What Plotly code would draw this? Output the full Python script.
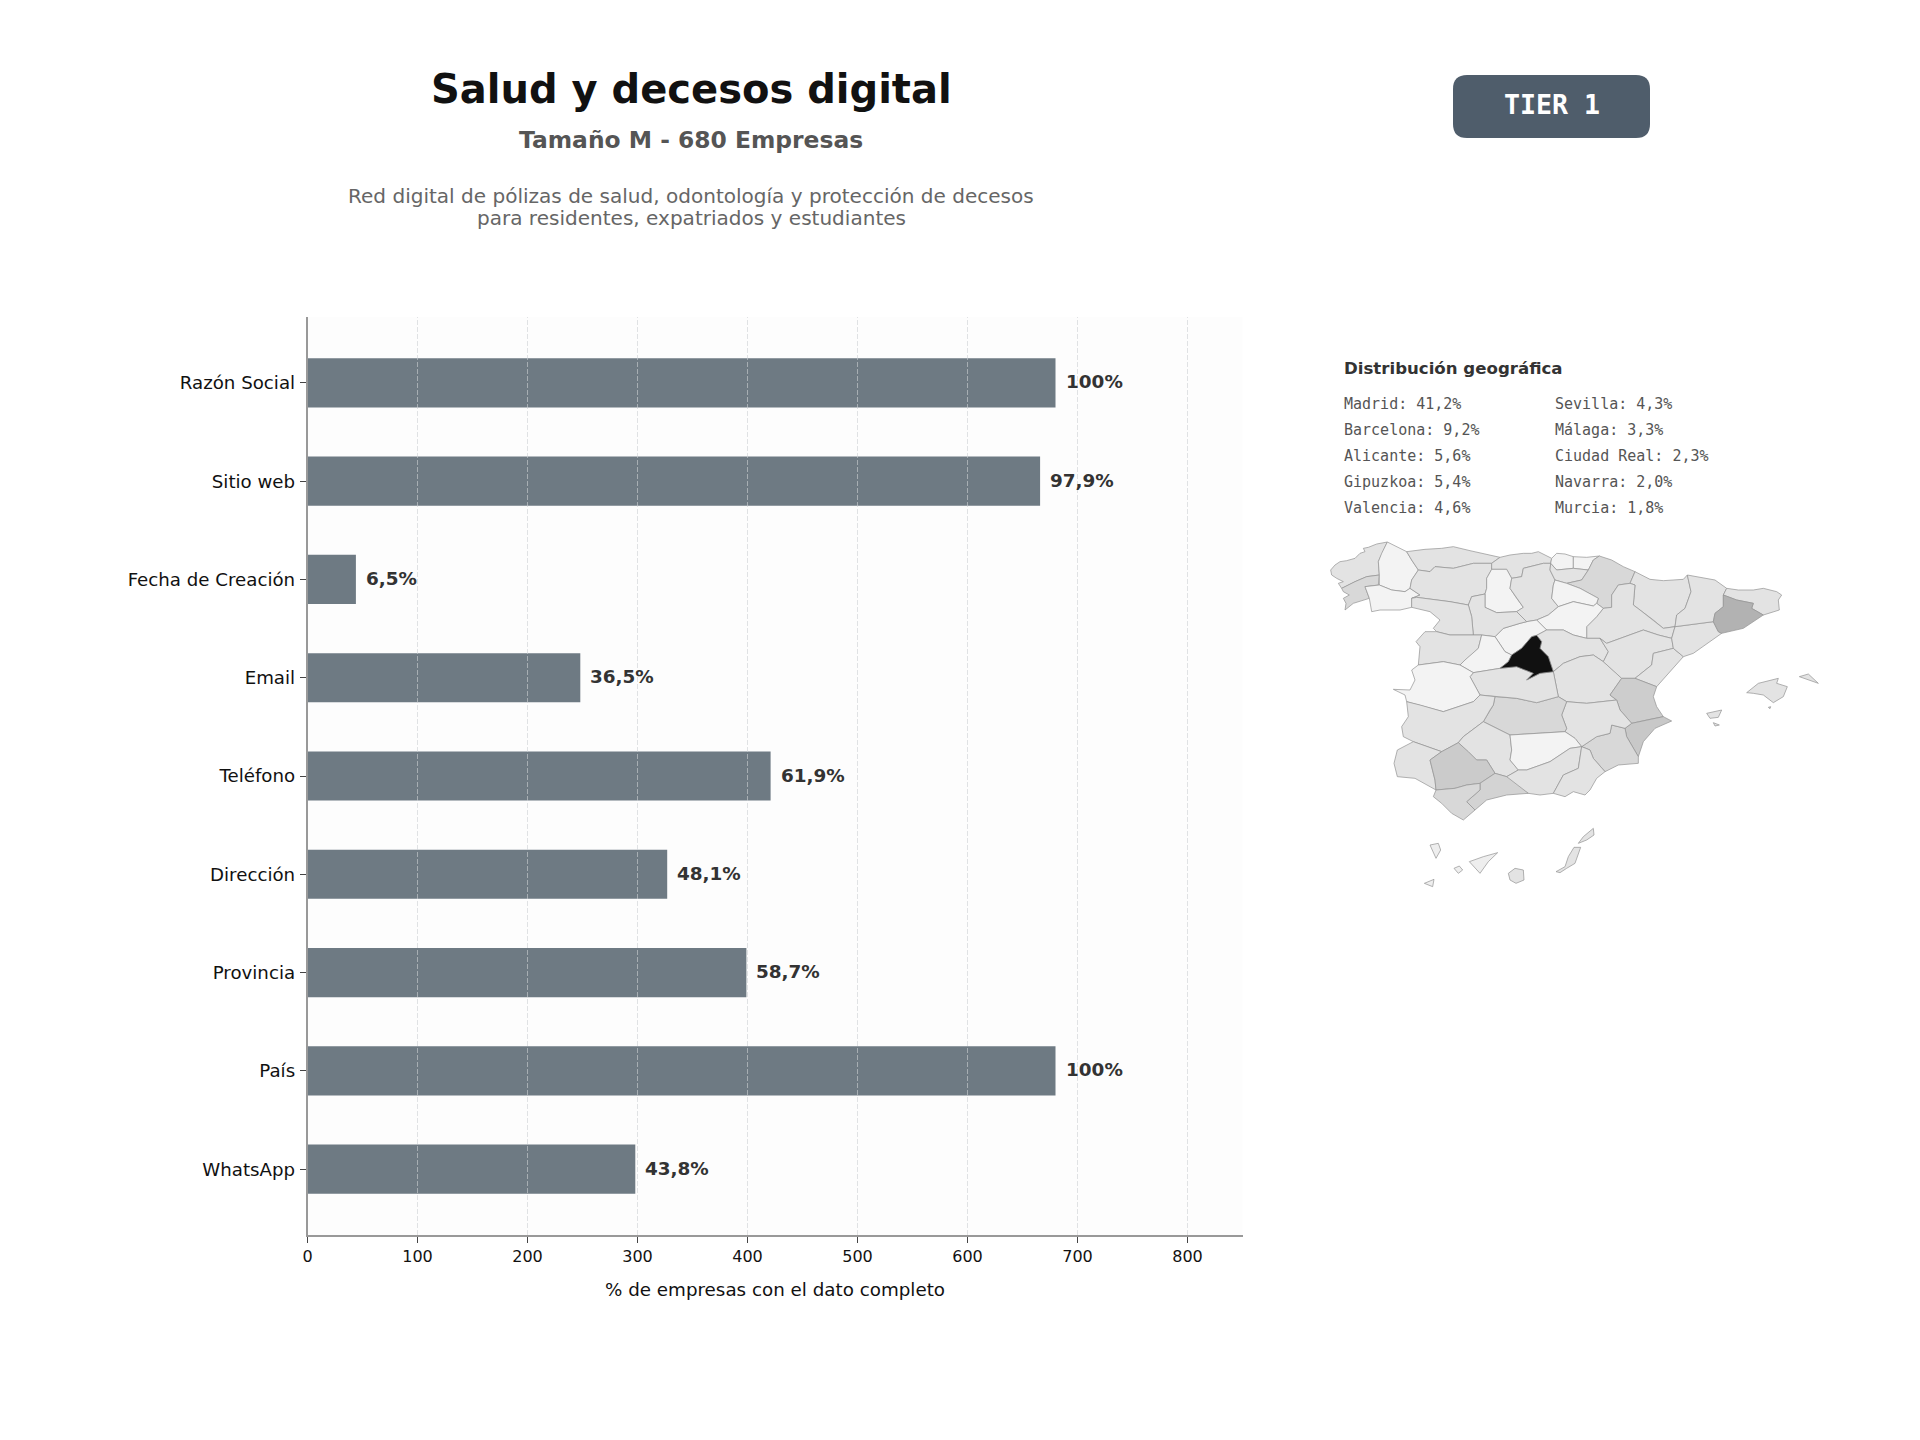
import plotly.graph_objects as go

WIDTH, HEIGHT = 1920, 1440

# Completeness of each company field
FIELDS = ["Razón Social", "Sitio web", "Fecha de Creación", "Email", "Teléfono",
          "Dirección", "Provincia", "País", "WhatsApp"]
COMPANY_COUNTS = [680, 666, 44, 248, 421, 327, 399, 680, 298]
COUNT_LABELS = ["100%", "97,9%", "6,5%", "36,5%", "61,9%", "48,1%", "58,7%", "100%", "43,8%"]
X_TICKS = [0, 100, 200, 300, 400, 500, 600, 700, 800]

# Top provinces, two columns
GEO_LEFT = ["Madrid: 41,2%", "Barcelona: 9,2%", "Alicante: 5,6%", "Gipuzkoa: 5,4%", "Valencia: 4,6%"]
GEO_RIGHT = ["Sevilla: 4,3%", "Málaga: 3,3%", "Ciudad Real: 2,3%", "Navarra: 2,0%", "Murcia: 1,8%"]

# Gray levels for the choropleth
LIGHT, PALE, MID, DEEP = "#f3f3f3", "#eeeeee", "#e3e3e3", "#d8d8d8"

# Province outlines in local map units, with their fill
PROVINCES = {
    "A Coruña": (MID, [(62,150),(75,135),(90,125),(110,122),(135,115),(150,100),(165,95),(160,85),(175,82),(200,72),(232,66),(215,100),(205,125),(208,165),(170,170),(135,185),(115,195),(95,205),(85,190),(100,185),(80,175),(65,165)]),
    "Pontevedra": (DEEP, [(95,205),(115,195),(135,185),(170,170),(208,165),(205,195),(165,200),(178,235),(130,250),(105,270),(108,250),(100,235),(118,225),(100,215)]),
    "Lugo": (LIGHT, [(232,66),(290,95),(305,120),(325,150),(305,180),(300,205),(285,215),(245,210),(208,195),(208,165),(205,125),(215,100)]),
    "Ourense": (LIGHT, [(165,200),(208,195),(245,210),(285,215),(300,205),(330,225),(305,235),(305,262),(270,270),(210,270),(185,275),(178,235)]),
    "Asturias": (MID, [(290,95),(318,92),(345,88),(395,85),(430,80),(480,92),(540,105),(570,112),(545,130),(490,130),(430,145),(375,140),(360,155),(325,150),(305,120)]),
    "León": (MID, [(325,150),(360,155),(375,140),(430,145),(490,130),(545,130),(545,148),(530,175),(530,205),(525,222),(485,230),(475,255),(420,245),(320,232),(305,235),(330,225),(300,205),(305,180)]),
    "Cantabria": (MID, [(545,130),(545,148),(590,148),(605,175),(635,170),(640,145),(700,130),(722,130),(725,115),(685,95),(665,100),(640,100),(600,105),(570,112)]),
    "Palencia": (LIGHT, [(545,148),(590,148),(605,175),(600,205),(620,235),(640,262),(620,275),(560,278),(525,262),(525,222),(530,205),(530,175)]),
    "Burgos": (MID, [(605,175),(635,170),(640,145),(700,130),(722,130),(720,150),(735,180),(730,195),(725,235),(745,260),(715,285),(680,300),(650,305),(620,275),(640,262),(620,235),(600,205)]),
    "Bizkaia": (LIGHT, [(725,115),(740,100),(765,102),(790,110),(790,145),(740,150),(722,130)]),
    "Gipuzkoa": (LIGHT, [(790,110),(830,112),(868,108),(850,120),(835,150),(790,145)]),
    "Álava": (MID, [(722,130),(740,150),(790,145),(835,150),(815,180),(770,190),(735,180),(720,150)]),
    "Navarra": (DEEP, [(868,108),(905,120),(940,140),(975,155),(960,190),(925,195),(905,225),(905,262),(880,265),(860,250),(865,235),(810,205),(770,190),(815,180),(835,150),(850,120)]),
    "La Rioja": (LIGHT, [(735,180),(770,190),(810,205),(865,235),(860,250),(850,258),(790,245),(745,260),(725,235),(730,195)]),
    "Huesca": (MID, [(975,155),(1020,178),(1060,182),(1120,178),(1132,165),(1143,215),(1125,265),(1100,285),(1095,320),(1060,325),(1030,300),(990,270),(970,255),(975,195),(960,190)]),
    "Zaragoza": (MID, [(905,262),(905,225),(925,195),(960,190),(975,195),(970,255),(990,270),(1030,300),(1060,325),(1095,320),(1085,355),(1045,345),(1000,330),(890,370),(870,355),(830,355),(830,320),(860,290),(880,265)]),
    "Soria": (LIGHT, [(745,260),(790,245),(850,258),(860,250),(880,265),(860,290),(830,320),(830,355),(790,345),(760,330),(710,330),(680,300),(715,285)]),
    "Segovia": (LIGHT, [(650,305),(680,300),(710,330),(680,346),(665,350),(635,385),(605,405),(585,395),(555,350),(580,325),(630,310)]),
    "Valladolid": (MID, [(485,230),(525,222),(525,262),(560,278),(620,275),(650,305),(630,310),(580,325),(555,350),(515,345),(490,345),(485,290),(475,255)]),
    "Zamora": (MID, [(320,232),(420,245),(475,255),(485,290),(490,345),(420,345),(380,335),(370,325),(390,300),(360,275),(305,262),(305,235)]),
    "Salamanca": (MID, [(345,335),(380,335),(420,345),(490,345),(515,345),(505,385),(465,420),(450,435),(400,425),(325,435),(330,380),(318,365)]),
    "Ávila": (LIGHT, [(515,345),(555,350),(585,395),(605,405),(595,425),(570,445),(490,458),(450,435),(465,420),(505,385)]),
    "Guadalajara": (MID, [(680,346),(710,330),(760,330),(790,345),(830,355),(870,355),(895,395),(880,425),(850,405),(810,410),(760,430),(730,455),(715,410),(690,385),(695,365)]),
    "Cuenca": (MID, [(760,430),(810,410),(850,405),(880,425),(925,465),(935,475),(900,525),(920,540),(830,550),(770,545),(745,530),(730,455)]),
    "Teruel": (MID, [(890,370),(1000,330),(1045,345),(1085,355),(1090,385),(1030,400),(1025,435),(975,475),(935,475),(880,425),(895,395),(870,355)]),
    "Castellón": (MID, [(1030,400),(1090,385),(1120,410),(1085,450),(1040,500),(975,475),(1025,435)]),
    "Tarragona": (MID, [(1085,355),(1095,320),(1210,305),(1225,335),(1235,340),(1150,400),(1120,410),(1090,385)]),
    "Lleida": (MID, [(1132,165),(1215,180),(1250,205),(1240,225),(1240,260),(1215,280),(1210,305),(1095,320),(1100,285),(1125,265),(1143,215)]),
    "Girona": (MID, [(1250,205),(1285,210),(1330,210),(1360,205),(1400,215),(1415,225),(1405,240),(1408,270),(1360,285),(1325,265),(1330,250),(1280,240),(1240,225)]),
    "Barcelona": ("#b2b2b2", [(1240,225),(1280,240),(1330,250),(1325,265),(1360,285),(1300,325),(1235,340),(1225,335),(1210,305),(1215,280),(1240,260)]),
    "Valencia": ("#cdcdcd", [(935,475),(975,475),(1040,500),(1030,530),(1040,560),(1060,590),(1020,598),(965,610),(930,570),(920,540),(900,525)]),
    "Alicante": ("#c8c8c8", [(965,610),(1020,598),(1060,590),(1085,603),(1035,625),(1000,665),(985,710),(950,650),(945,625)]),
    "Murcia": (DEEP, [(905,615),(945,625),(950,650),(985,710),(985,730),(925,735),(885,755),(850,715),(840,690),(815,680),(860,650),(900,640)]),
    "Albacete": (MID, [(770,545),(830,550),(920,540),(930,570),(965,610),(945,625),(905,615),(900,640),(860,650),(815,680),(795,655),(765,635),(770,625),(755,585)]),
    "Ciudad Real": (DEEP, [(555,530),(620,535),(680,548),(745,530),(770,545),(755,585),(770,625),(765,635),(680,640),(600,645),(520,605),(540,570),(550,555)]),
    "Toledo": (MID, [(480,470),(490,458),(570,445),(620,440),(670,460),(650,480),(690,460),(730,455),(745,530),(680,548),(620,535),(555,530),(510,525)]),
    "Cáceres": (LIGHT, [(305,450),(325,435),(400,425),(450,435),(490,458),(480,470),(510,525),(490,545),(400,575),(330,555),(290,545),(285,525),(250,508),(300,510),(315,480)]),
    "Badajoz": (MID, [(290,545),(330,555),(400,575),(490,545),(510,525),(555,530),(550,555),(540,570),(520,605),(460,650),(445,668),(395,695),(310,665),(280,650),(275,620),(295,590)]),
    "Córdoba": (MID, [(520,605),(600,645),(605,690),(600,720),(625,750),(590,770),(555,760),(530,720),(500,720),(475,695),(445,668),(460,650)]),
    "Jaén": (LIGHT, [(600,645),(680,640),(765,635),(795,655),(815,680),(780,685),(720,725),(650,750),(625,750),(600,720),(605,690)]),
    "Granada": (MID, [(625,750),(650,750),(720,725),(780,685),(815,680),(805,745),(760,765),(730,820),(690,825),(655,820),(600,790),(590,770)]),
    "Almería": (MID, [(815,680),(840,690),(850,715),(885,755),(860,775),(840,810),(825,825),(790,815),(765,830),(730,820),(760,765),(805,745)]),
    "Huelva": (MID, [(310,665),(395,695),(360,720),(375,780),(378,810),(315,775),(262,770),(252,730),(262,690)]),
    "Sevilla": ("#cbcbcb", [(395,695),(445,668),(475,695),(500,720),(530,720),(555,760),(510,790),(470,795),(435,805),(378,810),(375,780),(360,720)]),
    "Málaga": ("#d3d3d3", [(555,760),(590,770),(655,820),(590,825),(530,840),(495,870),(470,845),(510,810),(510,790)]),
    "Cádiz": (DEEP, [(378,810),(435,805),(470,795),(510,790),(510,810),(470,845),(495,870),(460,900),(425,880),(395,850),(370,830)]),
    "Madrid": ("#111111", [(680,346),(695,365),(690,385),(715,410),(730,455),(690,460),(650,480),(670,460),(620,440),(570,445),(595,425),(605,405),(635,385),(665,350)]),
    "Mallorca": (MID, [(1310,518),(1345,490),(1405,475),(1400,490),(1432,500),(1420,530),(1390,548),(1360,525),(1330,520)]),
    "Menorca": (MID, [(1468,470),(1495,462),(1525,490),(1490,478)]),
    "Cabrera": (DEEP, [(1375,562),(1382,560),(1380,566)]),
    "Ibiza": (MID, [(1190,580),(1235,570),(1225,592),(1200,595)]),
    "Formentera": (MID, [(1210,608),(1228,615),(1215,618)]),
    "La Palma": (PALE, [(360,975),(385,970),(392,990),(378,1015)]),
    "Tenerife": (PALE, [(478,1025),(520,1010),(563,998),(535,1025),(510,1060),(495,1045)]),
    "La Gomera": (PALE, [(432,1045),(448,1038),(458,1050),(445,1060)]),
    "El Hierro": (PALE, [(343,1090),(372,1078),(368,1100)]),
    "Gran Canaria": (MID, [(595,1060),(615,1045),(640,1050),(642,1080),(618,1090),(600,1080)]),
    "Fuerteventura": (MID, [(738,1055),(765,1040),(775,1010),(792,982),(812,982),(795,1030),(770,1045),(750,1058)]),
    "Lanzarote": (MID, [(805,970),(820,950),(850,925),(852,945),(830,960)]),
}


def px_x(x):
    return x / WIDTH


def px_y(y):
    return 1 - y / HEIGHT


def text_note(x, y, text, size, color, family="DejaVu Sans", bold=False, anchor="left"):
    return dict(
        xref="paper", yref="paper", x=px_x(x), y=px_y(y), text=f"<b>{text}</b>" if bold else text,
        showarrow=False, xanchor=anchor, yanchor="middle",
        font=dict(family=family, size=size, color=color),
    )


fig = go.Figure()

fig.add_trace(go.Bar(
    x=COMPANY_COUNTS, y=FIELDS, orientation="h", width=0.5,
    marker=dict(color="#6e7a83", line=dict(width=0)),
    hoverinfo="skip", showlegend=False,
))

for name, (shade, outline) in PROVINCES.items():
    fig.add_trace(go.Scatter(
        x=[p[0] for p in outline] + [outline[0][0]],
        y=[p[1] for p in outline] + [outline[0][1]],
        xaxis="x2", yaxis="y2", mode="lines", fill="toself", fillcolor=shade,
        line=dict(color="#929292", width=0.7), name=name,
        hoverinfo="skip", showlegend=False,
    ))

annotations = [
    text_note(691, 89, "Salud y decesos digital", 40, "#111111", bold=True, anchor="center"),
    text_note(691, 140, "Tamaño M - 680 Empresas", 23.4, "#555555", bold=True, anchor="center"),
    text_note(691, 196, "Red digital de pólizas de salud, odontología y protección de decesos", 20.05, "#666666", anchor="center"),
    text_note(691, 218, "para residentes, expatriados y estudiantes", 20.05, "#666666", anchor="center"),
    text_note(1552, 105, "TIER 1", 26.6, "#ffffff", family="DejaVu Sans Mono", bold=True, anchor="center"),
    text_note(1342, 368, "Distribución geográfica", 16.6, "#333333", bold=True),
]
for i, line in enumerate(GEO_LEFT):
    annotations.append(text_note(1342, 404 + 26 * i, line, 15, "#555555", family="DejaVu Sans Mono"))
for i, line in enumerate(GEO_RIGHT):
    annotations.append(text_note(1553, 404 + 26 * i, line, 15, "#555555", family="DejaVu Sans Mono"))
for field, count, label in zip(FIELDS, COMPANY_COUNTS, COUNT_LABELS):
    annotations.append(dict(
        xref="x", yref="y", x=count, y=field, text=f"<b>{label}</b>", showarrow=False,
        xanchor="left", yanchor="middle", xshift=8, yshift=1,
        font=dict(family="DejaVu Sans", size=18.4, color="#333333"),
    ))

# Dashed grid sits over the bars, so it is drawn as shapes
shapes = [
    dict(type="rect", xref="x domain", yref="y domain", x0=0, x1=1, y0=0, y1=1, layer="below",
         fillcolor="#fdfdfd", line=dict(width=0)),
]
shapes += [
    dict(type="line", xref="x", yref="y domain", x0=t, x1=t, y0=0, y1=1, layer="above",
         line=dict(color="rgba(205,208,212,0.6)", width=1, dash="5px,2px"))
    for t in X_TICKS[1:]
]

# Rounded badge
bx0, bx1, by0, by1, r = 1453, 1650, 75, 138, 14
badge_path = (
    f"M {px_x(bx0 + r)} {px_y(by0)} L {px_x(bx1 - r)} {px_y(by0)} "
    f"Q {px_x(bx1)} {px_y(by0)} {px_x(bx1)} {px_y(by0 + r)} L {px_x(bx1)} {px_y(by1 - r)} "
    f"Q {px_x(bx1)} {px_y(by1)} {px_x(bx1 - r)} {px_y(by1)} L {px_x(bx0 + r)} {px_y(by1)} "
    f"Q {px_x(bx0)} {px_y(by1)} {px_x(bx0)} {px_y(by1 - r)} L {px_x(bx0)} {px_y(by0 + r)} "
    f"Q {px_x(bx0)} {px_y(by0)} {px_x(bx0 + r)} {px_y(by0)} Z"
)
shapes.append(dict(type="path", xref="paper", yref="paper", path=badge_path,
                   fillcolor="#4f5d6b", line=dict(width=0), layer="below"))

fig.update_layout(
    width=WIDTH, height=HEIGHT, autosize=False,
    margin=dict(l=0, r=0, t=0, b=0, autoexpand=False),
    paper_bgcolor="#ffffff", plot_bgcolor="#ffffff",
    font=dict(family="DejaVu Sans", color="#111111"),
    annotations=annotations, shapes=shapes, bargap=0.5,
    xaxis=dict(
        domain=[px_x(307.5), px_x(1242.5)], range=[0, 850], automargin=False,
        tickmode="array", tickvals=X_TICKS, ticks="outside", ticklen=6, tickwidth=1, tickcolor="#444444",
        tickfont=dict(size=16, color="#111111"), showgrid=False, zeroline=False,
        showline=True, linecolor="#999999", linewidth=1.5,
        title=dict(text="% de empresas con el dato completo", font=dict(size=18.3, color="#111111"), standoff=18),
    ),
    yaxis=dict(
        domain=[px_y(1235), px_y(317)], range=[8.67, -0.67], type="category", automargin=False,
        categoryorder="array", categoryarray=FIELDS,
        ticks="outside", ticklen=6, tickwidth=1, tickcolor="#444444",
        tickfont=dict(size=18.2, color="#111111"), showgrid=False, zeroline=False,
        showline=True, linecolor="#999999", linewidth=1.5, ticklabelstandoff=1,
    ),
    xaxis2=dict(domain=[px_x(1310), px_x(1830)], range=[0, 1560], anchor="y2", visible=False,
                fixedrange=True, automargin=False),
    yaxis2=dict(domain=[px_y(900), px_y(520)], range=[1140, 0], anchor="x2", visible=False,
                fixedrange=True, automargin=False),
)

fig.write_html("out.html")
